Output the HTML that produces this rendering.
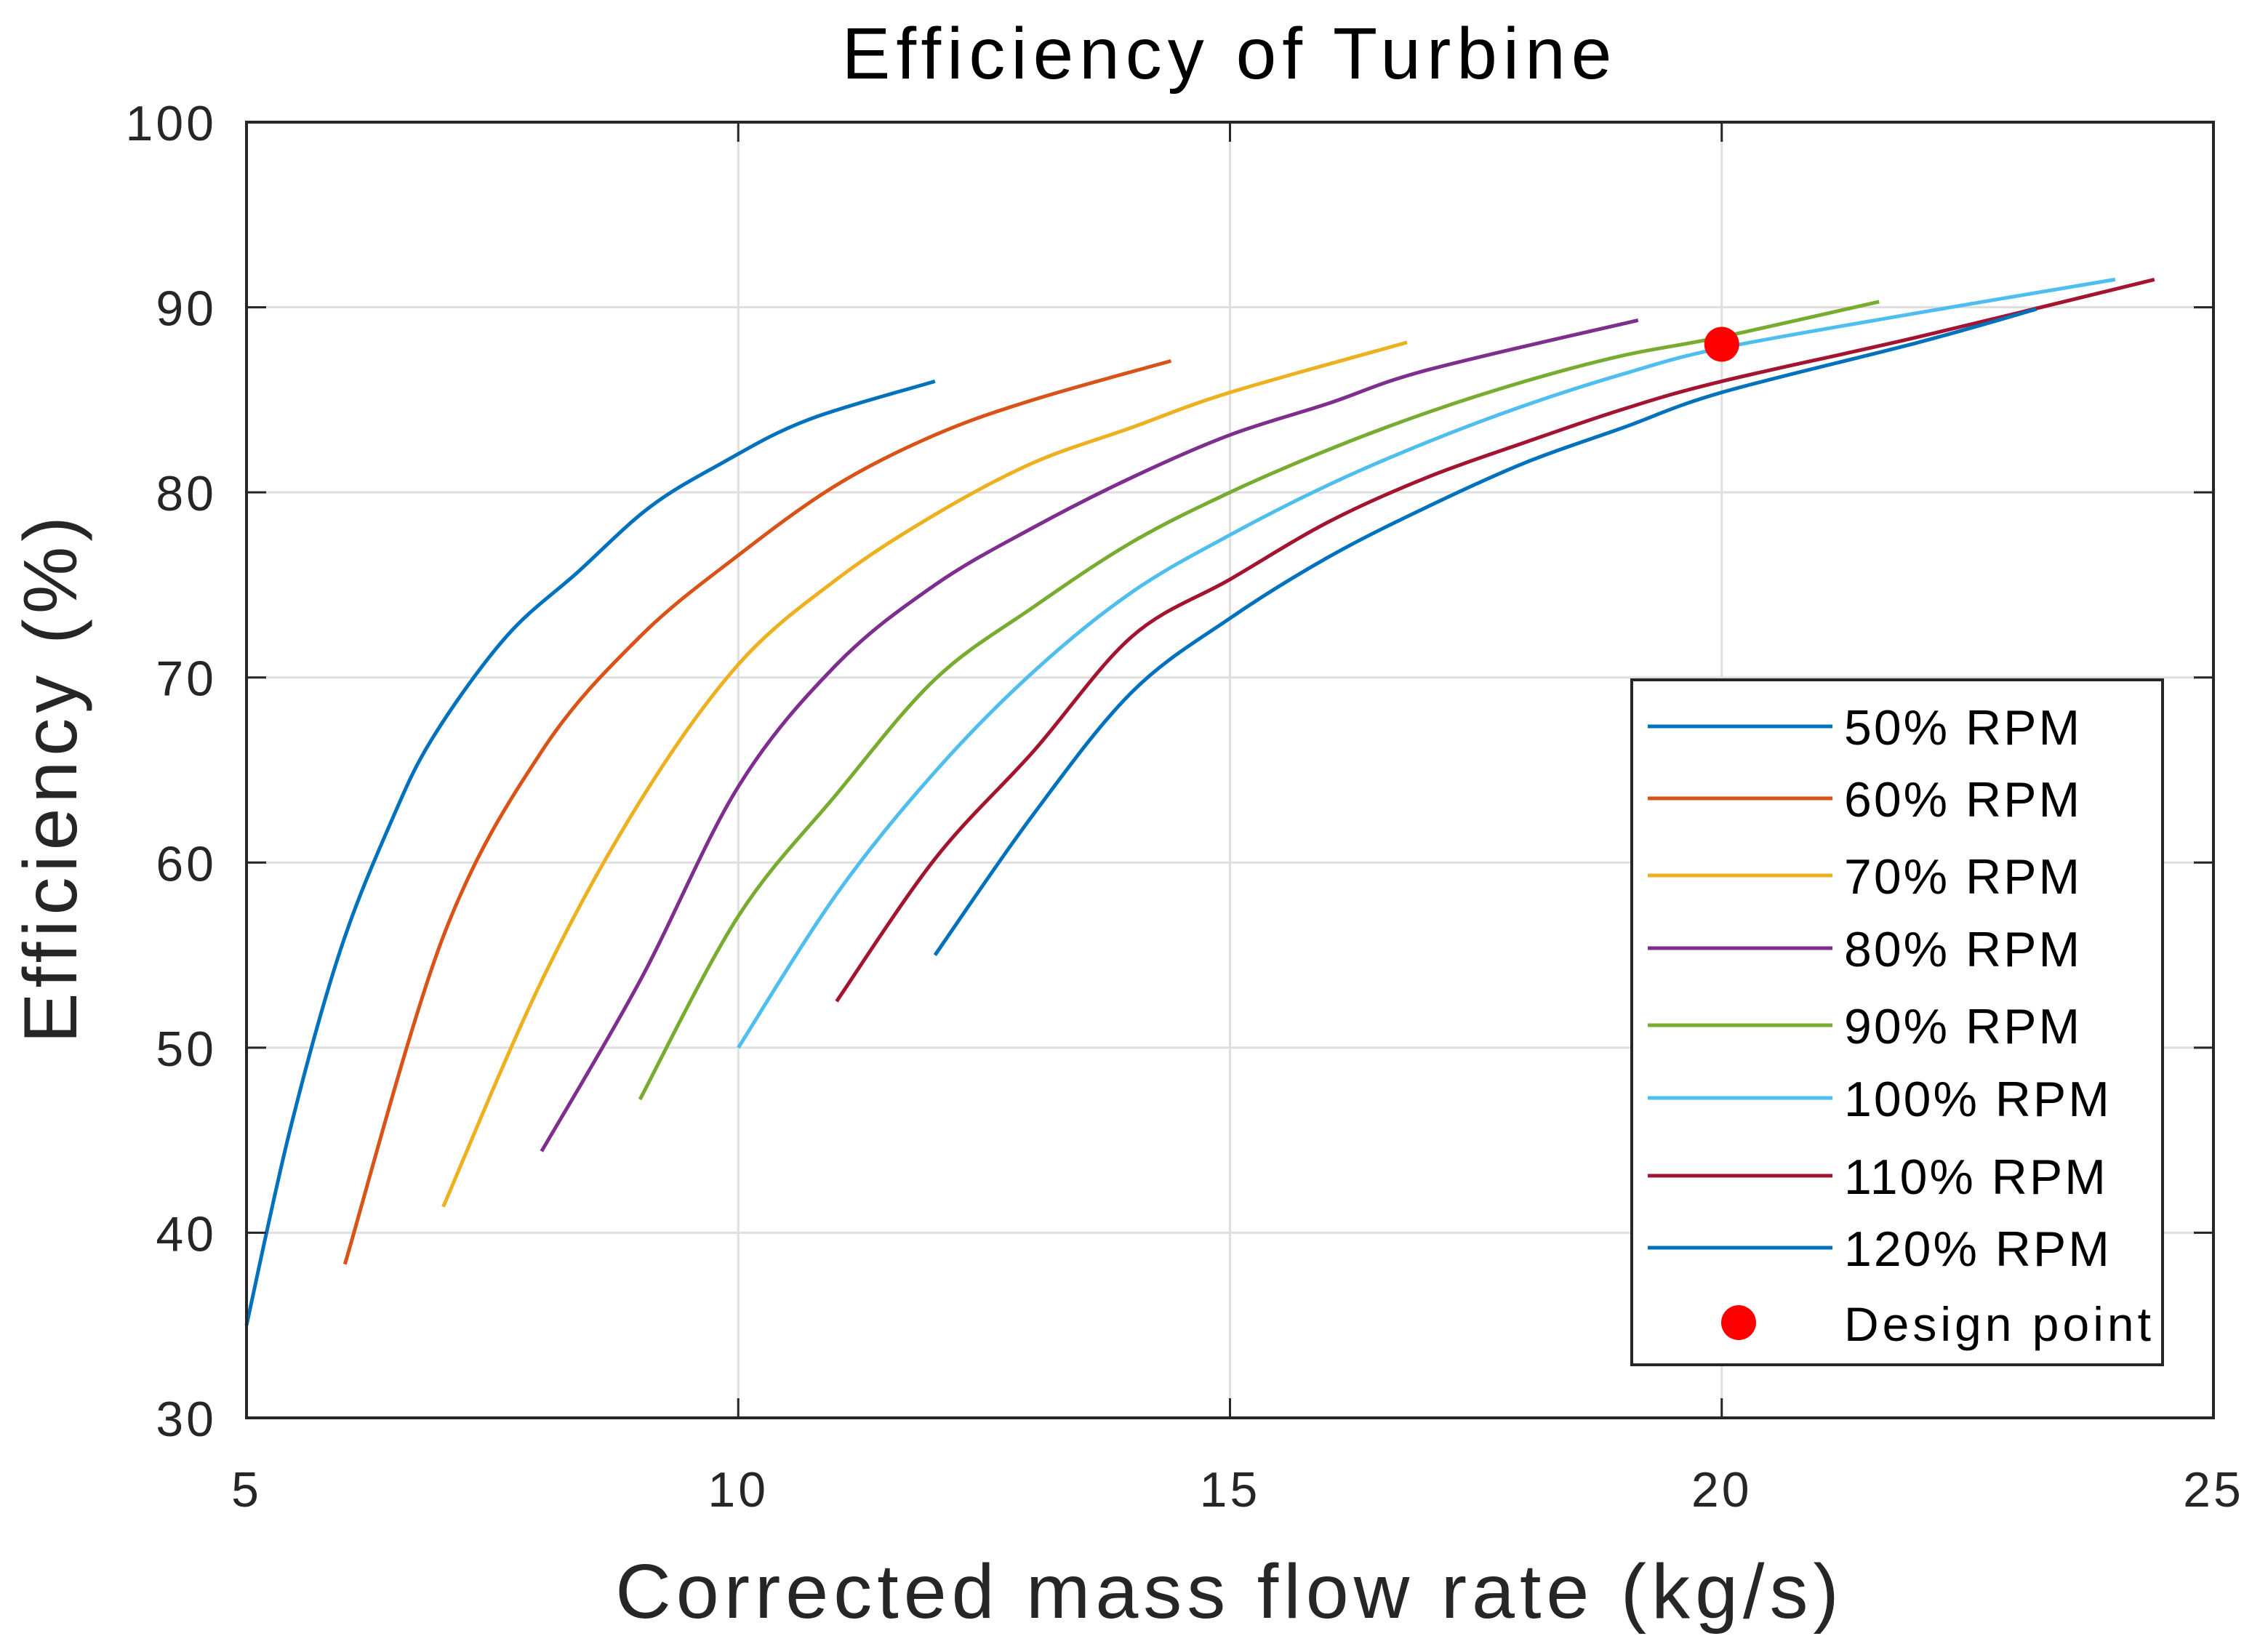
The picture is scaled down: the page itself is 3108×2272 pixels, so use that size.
<!DOCTYPE html>
<html><head><meta charset="utf-8"><style>
html,body{margin:0;padding:0;background:#fff;}
svg{display:block;font-family:"Liberation Sans",Arial,sans-serif;}
</style></head><body>
<svg id="chart" width="3108" height="2272" viewBox="0 0 3108 2272" xmlns="http://www.w3.org/2000/svg">
<rect width="3108" height="2272" fill="#fff"/>
<g id="grid"></g>
<g id="series"></g>
<g id="axes"></g>
<text x="1691" y="108" font-size="100" letter-spacing="8" text-anchor="middle" fill="#000">Efficiency of Turbine</text>
<text x="1691" y="2225" font-size="106" letter-spacing="7" text-anchor="middle" fill="#262626">Corrected mass flow rate (kg/s)</text>
<text transform="translate(105,1069) rotate(-90)" font-size="104" letter-spacing="7" text-anchor="middle" fill="#262626">Efficiency (%)</text>
<g id="legend"></g>
</svg>
<script>
const xTicks = [5, 10, 15, 20, 25];
const yTicks = [30, 40, 50, 60, 70, 80, 90, 100];
const seriesNames = ["50% RPM","60% RPM","70% RPM","80% RPM","90% RPM","100% RPM","110% RPM","120% RPM"];
const seriesColors = ["#0072BD","#D95319","#EDB120","#7E2F8E","#77AC30","#4DBEEE","#A2142F","#0072BD"];
const s50x = [5, 5.44, 5.95, 6.47, 6.9, 7.64, 8.37, 9.1, 9.84, 10.7, 12];
const s50y = [35, 45.5, 55.2, 62.2, 66.8, 72.2, 75.7, 79.2, 81.6, 83.9, 86.0];
const s60x = [6, 7, 8, 9, 10, 11, 12, 13, 14.4];
const s60y = [38.3, 56, 66, 72.2, 76.6, 80.4, 83.1, 85.0, 87.1];
const s70x = [7, 8, 9, 10, 11, 12, 13, 14, 15, 16.8];
const s70y = [41.4, 53.6, 63.3, 70.7, 75.3, 78.8, 81.6, 83.5, 85.4, 88.1];
const s80x = [8, 9, 10, 11, 12, 13, 14, 15, 16, 17, 19.15];
const s80y = [44.4, 53.6, 64.1, 70.7, 75, 78.1, 80.8, 83.1, 84.8, 86.6, 89.3];
const s90x = [9, 10, 11, 12, 13, 14, 15, 16, 17, 18, 19, 20, 21.6];
const s90y = [47.2, 57.1, 63.7, 69.9, 73.8, 77.3, 80, 82.3, 84.3, 86, 87.4, 88.4, 90.3];
const s100x = [10, 11, 12, 13, 14, 15, 16, 17, 18, 19, 20, 22, 24];
const s100y = [50, 58.3, 64.9, 70.3, 74.6, 77.7, 80.4, 82.7, 84.7, 86.4, 87.8, 89.7, 91.5];
const s110x = [11, 12, 13, 14, 15, 16, 17, 18, 19, 20, 22, 24.4];
const s110y = [52.5, 60.2, 66, 72.2, 75.3, 78.4, 80.8, 82.7, 84.5, 86, 88.4, 91.5];
const s120x = [12, 13, 14, 15, 16, 17, 18, 19, 20, 22, 23.2];
const s120y = [55, 62.6, 69.2, 73.2, 76.5, 79.2, 81.6, 83.5, 85.4, 88.1, 89.9];
const designX = [20];
const designY = [88];

const allX = [s50x,s60x,s70x,s80x,s90x,s100x,s110x,s120x];
const allY = [s50y,s60y,s70y,s80y,s90y,s100y,s110y,s120y];

const NS = "http://www.w3.org/2000/svg";
const L = 339, R = 3044, T = 168, B = 1950;
const X0 = 5, X1 = 25, Y0 = 30, Y1 = 100;
function sx(v){ return L + (v - X0) / (X1 - X0) * (R - L); }
function sy(v){ return B - (v - Y0) / (Y1 - Y0) * (B - T); }
function mk(tag, attrs, parent){
  const e = document.createElementNS(NS, tag);
  for (const k in attrs) e.setAttribute(k, attrs[k]);
  parent.appendChild(e);
  return e;
}
function smoothPath(p){
  let d = 'M' + p[0][0].toFixed(1) + ',' + p[0][1].toFixed(1);
  for (let i = 0; i < p.length - 1; i++) {
    const p0 = p[i-1] || p[i], p1 = p[i], p2 = p[i+1], p3 = p[i+2] || p[i+1];
    const c1x = p1[0] + (p2[0]-p0[0])/6, c1y = p1[1] + (p2[1]-p0[1])/6;
    const c2x = p2[0] - (p3[0]-p1[0])/6, c2y = p2[1] - (p3[1]-p1[1])/6;
    d += ' C' + c1x.toFixed(1) + ',' + c1y.toFixed(1) + ' ' + c2x.toFixed(1) + ',' + c2y.toFixed(1) + ' ' + p2[0].toFixed(1) + ',' + p2[1].toFixed(1);
  }
  return d;
}
const grid = document.getElementById('grid');
const axes = document.getElementById('axes');
const series = document.getElementById('series');
const legend = document.getElementById('legend');

xTicks.forEach(t => {
  const x = sx(t);
  if (t !== X0 && t !== X1) {
    const g = mk('line', {x1:x, y1:T, x2:x, y2:B, stroke:'#dfdfdf', 'stroke-width':3}, grid);
    
    
  }
  const tk1 = mk('line', {x1:x, y1:B, x2:x, y2:B-27, stroke:'#262626', 'stroke-width':3}, axes);
  
  
  const tk2 = mk('line', {x1:x, y1:T, x2:x, y2:T+27, stroke:'#262626', 'stroke-width':3}, axes);
  
  
  const lb = mk('text', {x:x, y:2072, 'font-size':68, 'letter-spacing':4, 'text-anchor':'middle', fill:'#262626'}, axes);
  lb.textContent = t;
  
  
});
yTicks.forEach(t => {
  const y = sy(t);
  if (t !== Y0 && t !== Y1) {
    const g = mk('line', {x1:L, y1:y, x2:R, y2:y, stroke:'#dfdfdf', 'stroke-width':3}, grid);
    
    
  }
  const tk1 = mk('line', {x1:L, y1:y, x2:L+27, y2:y, stroke:'#262626', 'stroke-width':3}, axes);
  
  
  const tk2 = mk('line', {x1:R, y1:y, x2:R-27, y2:y, stroke:'#262626', 'stroke-width':3}, axes);
  
  
  const lb = mk('text', {x:298, y:y+25, 'font-size':68, 'letter-spacing':4, 'text-anchor':'end', fill:'#262626'}, axes);
  lb.textContent = t;
  
  
});
const frame = mk('rect', {x:L, y:T, width:R-L, height:B-T, fill:'none', stroke:'#262626', 'stroke-width':4}, axes);



allX.forEach((xs, i) => {
  const ys = allY[i];
  const pts = xs.map((v, j) => [sx(v), sy(ys[j])]);
  const pl = mk('path', {d:smoothPath(pts), fill:'none', stroke:seriesColors[i], 'stroke-width':5, 'stroke-linejoin':'round'}, series);
  
  
});
designX.forEach((v, i) => {
  const c = mk('circle', {cx:sx(v), cy:sy(designY[i]), r:24, fill:'#ff0000'}, series);
  
  
});

const lbox = mk('rect', {x:2244, y:935, width:730, height:942, fill:'#fff', stroke:'#262626', 'stroke-width':4}, legend);


const rowsY = [999, 1098, 1204, 1304, 1410, 1510, 1617, 1716];
seriesNames.forEach((n, i) => {
  const y = rowsY[i];
  const ln = mk('line', {x1:2266, y1:y, x2:2520, y2:y, stroke:seriesColors[i], 'stroke-width':5}, legend);
  
  
  const tx = mk('text', {x:2536, y:y+25, 'font-size':68, 'letter-spacing':3, fill:'#000'}, legend);
  tx.textContent = n;
  
  
});
const ld = mk('circle', {cx:2391, cy:1819, r:24, fill:'#ff0000'}, legend);


const lt = mk('text', {x:2536, y:1844, 'font-size':66, 'letter-spacing':5, fill:'#000'}, legend);
lt.textContent = 'Design point';


</script>
</body></html>
